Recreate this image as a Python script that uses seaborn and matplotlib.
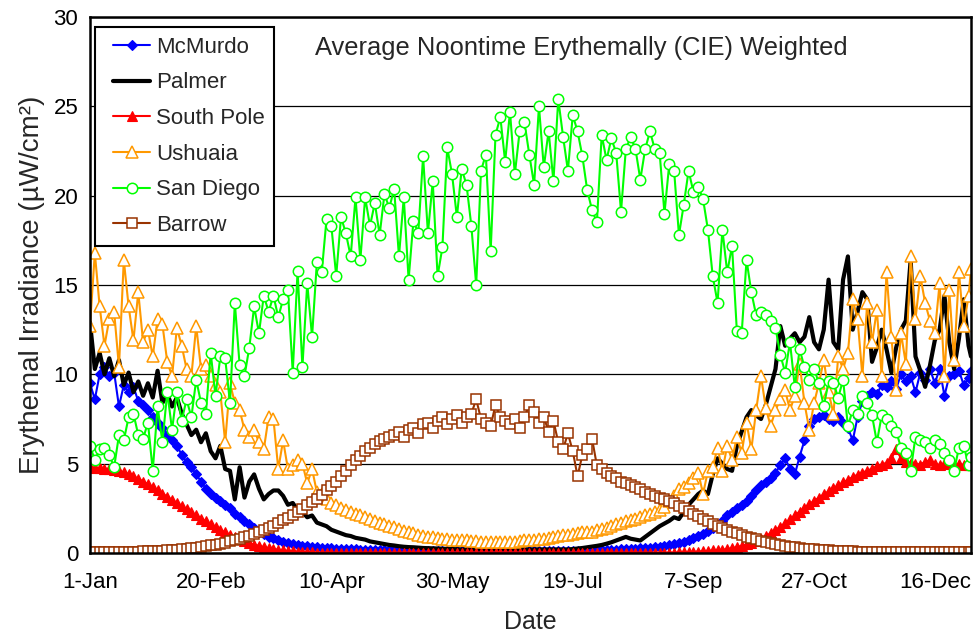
import matplotlib
matplotlib.use("Agg")
import matplotlib.pyplot as plt
from matplotlib.lines import Line2D
from matplotlib.legend_handler import HandlerLine2D
import seaborn as sns

# Day offsets from 1-Jan (leap year), every second day, last day = 31-Dec
DAYS = list(range(0, 365, 2)) + [365]

TICK_DAYS = [0, 50, 100, 150, 200, 250, 300, 350]
TICK_LABELS = ["1-Jan", "20-Feb", "10-Apr", "30-May", "19-Jul", "7-Sep", "27-Oct", "16-Dec"]

MCMURDO = [
    9.5, 8.6, 10.0, 10.4, 9.9, 10.1, 8.2, 9.4, 9.0, 9.3,
    8.5, 8.3, 8.0, 7.6, 7.3, 7.0, 6.6, 6.3, 6.0, 5.5,
    5.1, 4.8, 4.4, 4.0, 3.6, 3.3, 3.1, 2.9, 2.7, 2.5,
    2.2, 2.0, 1.8, 1.6, 1.4, 1.2, 1.05, 0.92, 0.82, 0.72,
    0.64, 0.57, 0.5, 0.45, 0.41, 0.38, 0.35, 0.32, 0.3, 0.28,
    0.26, 0.24, 0.23, 0.22, 0.21, 0.2, 0.19, 0.18, 0.17, 0.16,
    0.15, 0.15, 0.14, 0.14, 0.13, 0.13, 0.12, 0.12, 0.12, 0.11,
    0.11, 0.11, 0.1, 0.1, 0.1, 0.1, 0.1, 0.1, 0.1, 0.1,
    0.1, 0.1, 0.1, 0.1, 0.1, 0.1, 0.1, 0.1, 0.1, 0.1,
    0.1, 0.1, 0.1, 0.1, 0.1, 0.1, 0.1, 0.11, 0.11, 0.11,
    0.12, 0.12, 0.13, 0.13, 0.14, 0.15, 0.16, 0.17, 0.18, 0.19,
    0.2, 0.21, 0.22, 0.24, 0.26, 0.28, 0.3, 0.33, 0.36, 0.4,
    0.45, 0.5, 0.56, 0.63, 0.72, 0.82, 0.94, 1.08, 1.24, 1.42,
    1.5, 1.8, 2.1, 2.3, 2.5, 2.7, 2.9, 3.2, 3.5, 3.8,
    4.0, 4.2, 4.5, 4.9, 5.3, 4.7, 4.4, 5.4, 6.3, 7.1,
    7.5, 7.6, 7.7, 7.5, 7.4, 7.6, 7.3, 7.0, 6.3, 7.6,
    8.5, 8.8, 9.0, 8.9, 9.4, 9.3, 9.6, 9.2, 10.0, 9.6,
    9.9, 9.0, 10.1, 9.7, 10.3, 9.5, 10.3, 8.8, 9.9, 10.0,
    10.2, 9.4, 9.8, 10.2,
]

PALMER = [
    12.9, 10.3, 11.2, 10.0, 10.9, 9.9, 10.8, 9.4, 10.1, 9.0,
    9.6, 8.8, 9.5, 8.7, 10.2, 8.4, 8.9, 8.2, 8.7, 7.8,
    7.2, 6.6, 6.9, 6.2, 6.7, 5.7, 5.3, 6.0, 4.7, 4.6,
    3.0, 4.8, 3.1, 4.0, 4.4, 3.6, 3.0, 3.3, 3.5, 3.5,
    3.2, 2.7, 2.8, 2.4, 2.3, 2.0, 2.1, 1.7, 1.6, 1.5,
    1.3, 1.2, 1.1, 1.0, 0.95, 0.85, 0.8, 0.75, 0.65, 0.6,
    0.55, 0.5, 0.45, 0.42, 0.38, 0.35, 0.33, 0.32, 0.3, 0.28,
    0.27, 0.26, 0.25, 0.24, 0.23, 0.22, 0.21, 0.2, 0.2, 0.2,
    0.2, 0.2, 0.2, 0.2, 0.2, 0.2, 0.2, 0.2, 0.2, 0.2,
    0.2, 0.2, 0.2, 0.2, 0.2, 0.2, 0.2, 0.2, 0.2, 0.2,
    0.22, 0.25, 0.28, 0.32, 0.36, 0.4, 0.45, 0.52, 0.6, 0.7,
    0.8, 0.9, 0.8, 0.75, 0.7, 0.9, 1.1, 1.3, 1.5, 1.65,
    1.8, 2.0, 1.9, 2.3, 2.7, 3.0, 3.3, 3.5, 3.3, 4.4,
    5.3, 5.0, 4.7, 4.6, 6.0, 6.8, 7.6, 8.0, 7.7, 7.5,
    8.3, 9.3, 10.3, 12.7, 11.6, 12.0, 12.3, 11.8, 12.1, 13.2,
    11.8, 11.4, 12.5, 15.3, 11.8, 11.4, 15.3, 16.6, 12.5, 13.5,
    14.6, 14.2, 10.7, 11.5, 12.5, 11.4, 10.1, 11.5, 12.5, 13.0,
    16.4, 11.0, 10.2, 9.3, 10.5, 11.9, 12.5, 14.4, 11.8, 10.3,
    12.0, 14.2, 11.6, 11.0,
]

SOUTH_POLE = [
    4.8, 4.78, 4.75, 4.72, 4.7, 4.65, 4.6, 4.52, 4.42, 4.3,
    4.15, 4.0, 3.85, 3.68, 3.5, 3.32, 3.15, 2.97, 2.8, 2.62,
    2.45, 2.28, 2.1, 1.93, 1.77, 1.6, 1.45, 1.3, 1.15, 1.0,
    0.88, 0.76, 0.65, 0.56, 0.47, 0.4, 0.33, 0.27, 0.22, 0.18,
    0.14, 0.11, 0.09, 0.07, 0.05, 0.04, 0.03, 0.02, 0.015, 0.01,
    0.01, 0.0, 0.0, 0.0, 0.0, 0.0, 0.0, 0.0, 0.0, 0.0,
    0.0, 0.0, 0.0, 0.0, 0.0, 0.0, 0.0, 0.0, 0.0, 0.0,
    0.0, 0.0, 0.0, 0.0, 0.0, 0.0, 0.0, 0.0, 0.0, 0.0,
    0.0, 0.0, 0.0, 0.0, 0.0, 0.0, 0.0, 0.0, 0.0, 0.0,
    0.0, 0.0, 0.0, 0.0, 0.0, 0.0, 0.0, 0.0, 0.0, 0.0,
    0.0, 0.0, 0.0, 0.0, 0.0, 0.0, 0.0, 0.0, 0.0, 0.0,
    0.0, 0.0, 0.0, 0.0, 0.0, 0.0, 0.0, 0.0, 0.01, 0.01,
    0.02, 0.02, 0.03, 0.04, 0.05, 0.06, 0.08, 0.1, 0.12, 0.15,
    0.15, 0.18, 0.22, 0.27, 0.33, 0.4, 0.48, 0.57, 0.68, 0.8,
    0.95, 1.1, 1.28, 1.47, 1.67, 1.88, 2.1, 2.32, 2.53, 2.73,
    2.92, 3.1, 3.28, 3.45, 3.62, 3.78, 3.95, 4.1, 4.25, 4.38,
    4.5, 4.6, 4.72, 4.85, 4.95, 5.05, 5.3, 5.8, 5.3, 5.1,
    5.05, 5.0, 4.95, 5.1, 5.2, 5.0, 4.9, 5.0, 5.05, 4.95,
    5.0, 4.9, 4.95, 4.9,
]

USHUAIA = [
    12.7, 16.8, 13.8, 11.6, 13.1, 13.5, 10.4, 16.4, 13.8, 11.9,
    14.6, 11.8, 12.5, 11.0, 13.1, 12.8, 10.7, 9.9, 12.6, 11.6,
    10.3, 9.9, 12.7, 10.3, 10.5, 9.9, 9.4, 9.0, 6.2, 9.5,
    8.4, 8.0, 6.9, 6.5, 6.9, 6.2, 5.8, 7.6, 7.5, 4.7,
    6.3, 4.7, 4.9, 5.2, 5.0, 3.9, 4.7, 3.4, 3.3, 3.0,
    2.8, 2.7, 2.5, 2.4, 2.3, 2.2, 2.1, 2.0, 1.9, 1.8,
    1.7, 1.6, 1.5, 1.45, 1.35, 1.25, 1.15, 1.1, 1.0, 0.95,
    0.9, 0.88, 0.85, 0.8, 0.78, 0.75, 0.72, 0.7, 0.7, 0.68,
    0.65, 0.63, 0.6, 0.6, 0.6, 0.6, 0.6, 0.62, 0.64, 0.67,
    0.7, 0.72, 0.75, 0.78, 0.8, 0.85, 0.9, 0.95, 1.0, 1.02,
    1.05, 1.1, 1.15, 1.18, 1.2, 1.28, 1.35, 1.42, 1.5, 1.6,
    1.7, 1.78, 1.85, 1.92, 2.0, 2.1, 2.2, 2.3, 2.4, 2.6,
    2.9, 3.2, 3.6, 3.7, 3.9, 4.2, 4.5, 3.3, 4.6, 4.8,
    5.9, 4.6, 6.0, 5.2, 6.5, 5.6, 7.3, 5.8, 8.0, 9.9,
    8.1, 7.1, 8.0, 8.6, 9.1, 8.0, 8.8, 10.6, 8.4, 6.9,
    8.4, 9.5, 10.8, 9.0, 7.8, 11.0, 10.3, 11.2, 14.2, 13.1,
    9.9, 14.0, 11.8, 13.6, 9.9, 15.7, 12.1, 9.1, 12.3, 10.6,
    16.6, 13.1, 15.5, 14.0, 13.0, 12.3, 15.1, 9.9, 14.7, 10.8,
    15.7, 12.7, 14.4, 15.9,
]

SAN_DIEGO = [
    6.0, 5.2, 5.8, 5.9, 5.5, 4.8, 6.6, 6.3, 7.6, 7.8,
    6.6, 6.4, 7.3, 4.6, 8.2, 6.2, 9.0, 6.9, 9.0, 7.4,
    8.6, 7.6, 9.7, 8.4, 7.8, 11.2, 8.8, 11.0, 10.9, 8.4,
    14.0, 10.5, 9.9, 11.5, 13.8, 12.3, 14.4, 13.5, 14.4, 13.2,
    14.2, 14.7, 10.1, 15.8, 10.4, 15.1, 12.1, 16.3, 15.7, 18.7,
    18.3, 15.5, 18.8, 17.9, 16.6, 19.9, 16.4, 19.9, 18.3, 19.6,
    17.8, 20.1, 19.3, 20.4, 16.6, 19.9, 15.3, 18.6, 17.9, 22.2,
    17.9, 20.8, 15.5, 17.1, 22.7, 21.2, 18.8, 21.5, 20.6, 18.3,
    15.0, 21.4, 22.3, 16.9, 23.4, 24.4, 21.9, 24.7, 21.2, 23.6,
    24.1, 22.3, 20.6, 25.0, 21.6, 23.6, 20.8, 25.4, 23.3, 21.4,
    24.5, 23.6, 22.2, 20.3, 19.2, 18.5, 23.4, 22.0, 23.2, 22.4,
    19.1, 22.6, 23.3, 22.6, 20.9, 22.6, 23.6, 22.6, 22.4, 19.0,
    21.8, 21.4, 17.8, 19.5, 21.4, 20.2, 20.5, 19.8, 18.1, 15.5,
    14.0, 18.1, 15.7, 17.2, 12.4, 12.3, 16.4, 14.6, 13.3, 13.5,
    13.3, 13.0, 12.6, 11.1, 10.1, 11.8, 9.3, 11.4, 10.4, 9.7,
    10.3, 9.5, 8.2, 9.6, 9.5, 8.7, 9.7, 7.1, 8.0, 7.8,
    8.8, 8.4, 7.7, 6.2, 7.7, 7.5, 7.1, 6.8, 5.9, 5.6,
    4.6, 6.5, 6.3, 6.2, 5.9, 6.3, 6.1, 5.6, 5.2, 4.6,
    5.9, 6.0, 4.9, 5.4,
]

BARROW = [
    0.05, 0.05, 0.05, 0.05, 0.06, 0.06, 0.06, 0.07, 0.07, 0.08,
    0.08, 0.09, 0.1, 0.11, 0.12, 0.13, 0.15, 0.17, 0.19, 0.21,
    0.24, 0.27, 0.3, 0.34, 0.38, 0.42, 0.47, 0.52, 0.58, 0.65,
    0.72, 0.8, 0.88, 0.97, 1.07, 1.17, 1.28, 1.4, 1.53, 1.67,
    1.82, 1.97, 2.13, 2.3, 2.48, 2.66, 2.85, 3.05, 3.27, 3.5,
    3.75, 4.0, 4.3, 4.6, 4.9, 5.2, 5.45, 5.7, 5.9, 6.1,
    6.25, 6.4, 6.5, 6.6, 6.75, 6.5, 6.9, 7.0, 6.7, 7.2,
    7.3, 7.0, 7.4, 7.6, 7.2, 7.5, 7.7, 7.3, 7.6, 7.8,
    8.6, 7.5, 7.3, 7.1, 8.3, 7.6, 7.4, 7.2, 7.5, 7.0,
    7.6, 8.3, 7.9, 7.3, 7.6, 6.8, 7.4, 6.2, 5.8, 6.7,
    5.7, 4.3, 5.5, 5.8, 6.4, 4.9, 4.7, 4.5, 4.3, 4.2,
    4.0, 3.9, 3.8, 3.7, 3.6, 3.4, 3.3, 3.2, 3.1, 3.0,
    2.9, 2.8, 2.65, 2.5, 2.35, 2.2, 2.05, 1.9, 1.78, 1.65,
    1.52, 1.4, 1.3, 1.2, 1.1, 1.0, 0.92, 0.84, 0.76, 0.68,
    0.61, 0.55, 0.49, 0.44, 0.39, 0.35, 0.31, 0.28, 0.25, 0.22,
    0.2, 0.18, 0.16, 0.14, 0.13, 0.12, 0.11, 0.1, 0.09, 0.08,
    0.08, 0.07, 0.07, 0.06, 0.06, 0.06, 0.05, 0.05, 0.05, 0.05,
    0.05, 0.05, 0.05, 0.05, 0.05, 0.05, 0.05, 0.05, 0.05, 0.05,
    0.05, 0.05, 0.05, 0.05,
]

SERIES = [
    ("McMurdo", MCMURDO, dict(color="#0000FF", marker="D", markersize=5.5,
                              markerfacecolor="#0000FF", markeredgecolor="#0000FF",
                              markeredgewidth=0.8, linewidth=1.5)),
    ("Palmer", PALMER, dict(color="#000000", linewidth=3.0)),
    ("South Pole", SOUTH_POLE, dict(color="#FF0000", marker="^", markersize=6.5,
                                    markerfacecolor="#FF0000", markeredgecolor="#FF0000",
                                    markeredgewidth=0.8, linewidth=1.5)),
    ("Ushuaia", USHUAIA, dict(color="#FF9900", marker="^", markersize=8.5,
                              markerfacecolor="white", markeredgecolor="#FF9900",
                              markeredgewidth=1.1, linewidth=1.5)),
    ("San Diego", SAN_DIEGO, dict(color="#00FF00", marker="o", markersize=7.5,
                                  markerfacecolor="white", markeredgecolor="#00FF00",
                                  markeredgewidth=1.1, linewidth=1.5)),
    ("Barrow", BARROW, dict(color="#993300", marker="s", markersize=7.0,
                            markerfacecolor="white", markeredgecolor="#993300",
                            markeredgewidth=1.1, linewidth=1.5)),
]

sns.set_theme(style="white")
plt.rcParams["font.family"] = ["Liberation Sans", "DejaVu Sans"]

fig = plt.figure(figsize=(9.76, 6.36), dpi=100)
ax = fig.add_axes([90 / 976, 1 - 553 / 636, 881 / 976, 536 / 636])

for name, vals, style in SERIES:
    sns.lineplot(x=DAYS, y=vals, ax=ax, label=name, **style)

ax.set_xlim(0, 365)
ax.set_ylim(0, 30)
ax.set_yticks([0, 5, 10, 15, 20, 25, 30])
ax.set_xticks(TICK_DAYS)
ax.set_xticklabels(TICK_LABELS)
ax.tick_params(axis="both", length=0, labelsize=16, colors="black")
ax.tick_params(axis="y", pad=8.5)
ax.tick_params(axis="x", pad=14)

ax.yaxis.grid(True, color="black", linewidth=0.9)
ax.xaxis.grid(False)
ax.set_axisbelow(True)
for sp in ax.spines.values():
    sp.set_visible(True)
    sp.set_color("black")
    sp.set_linewidth(1.8)

ax.set_xlabel("Date", fontsize=18, labelpad=12)
ax.set_ylabel("Erythemal Irradiance (µW/cm²)", fontsize=20, labelpad=6)

leg = ax.legend(loc="upper left", bbox_to_anchor=(5 / 881, 1 - 10 / 536),
                borderaxespad=0, frameon=True, fancybox=False, framealpha=1,
                edgecolor="black", fontsize=16, handlelength=2.05,
                handletextpad=0.25, labelspacing=0.66, borderpad=0.44,
                handler_map={Line2D: HandlerLine2D(xpad=0.37)})
leg.get_frame().set_linewidth(1.5)

ax.text((581 - 90) / 881, (553 - 48) / 536, "Average Noontime Erythemally (CIE) Weighted",
        transform=ax.transAxes, ha="center", va="center", fontsize=18.4)

fig.savefig("out.png", dpi=100)
